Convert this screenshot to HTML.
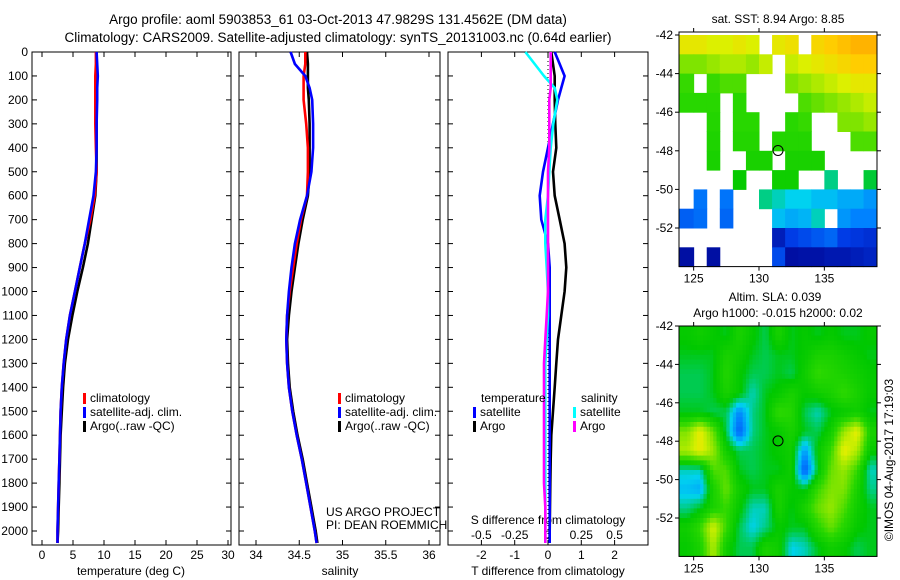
<!DOCTYPE html>
<html><head><meta charset="utf-8">
<style>
html,body{margin:0;padding:0;background:#fff;}
svg{display:block;font-family:"Liberation Sans",Arial,sans-serif;}
</style></head>
<body>
<svg id="fig" width="900" height="580" viewBox="0 0 900 580">
<text x="338" y="24" font-size="13.5" text-anchor="middle">Argo profile: aoml 5903853_61 03-Oct-2013 47.9829S 131.4562E (DM data)</text>
<text x="338" y="42" font-size="13.5" text-anchor="middle">Climatology: CARS2009. Satellite-adjusted climatology: synTS_20131003.nc (0.64d earlier)</text>
<text x="778" y="23" font-size="12" text-anchor="middle">sat. SST: 8.94 Argo: 8.85</text>
<text x="775" y="301" font-size="12" text-anchor="middle">Altim. SLA: 0.039</text>
<text x="778" y="317" font-size="12" text-anchor="middle">Argo h1000: -0.015 h2000: 0.02</text>
<text transform="translate(893,460) rotate(-90)" font-size="12" text-anchor="middle">©IMOS 04-Aug-2017 17:19:03</text>
<text x="326" y="516" font-size="12">US ARGO PROJECT</text>
<text x="326" y="529" font-size="12">PI: DEAN ROEMMICH</text>
<g id="g"></g>
</svg>
<script>
const depths=[0,50,100,150,200,300,400,500,600,700,800,900,1000,1100,1200,1300,1400,1500,1600,1700,1800,1900,2000,2050];
const tClim=[8.7,8.7,8.6,8.6,8.6,8.6,8.7,8.8,8.5,7.8,6.9,6.1,5.3,4.5,3.9,3.5,3.2,3.0,2.9,2.8,2.7,2.6,2.5,2.5];
const tSat=[8.8,8.9,9.0,8.9,8.9,8.8,8.8,8.7,8.3,7.6,6.9,6.1,5.3,4.5,3.9,3.5,3.2,3.0,2.9,2.8,2.7,2.6,2.5,2.5];
const tArgo=[8.8,8.8,8.8,8.8,8.8,8.8,8.8,8.8,8.6,8.0,7.4,6.6,5.7,4.9,4.2,3.7,3.4,3.2,3.0,2.9,2.8,2.7,2.6,2.5];
const sClim=[34.57,34.57,34.55,34.55,34.55,34.58,34.60,34.60,34.59,34.52,34.47,34.43,34.39,34.36,34.35,34.36,34.38,34.42,34.47,34.53,34.58,34.63,34.68,34.70];
const sSat=[34.40,34.45,34.57,34.62,34.65,34.66,34.66,34.64,34.59,34.51,34.45,34.41,34.38,34.36,34.35,34.36,34.38,34.42,34.47,34.53,34.58,34.63,34.68,34.70];
const sArgo=[34.59,34.60,34.60,34.60,34.61,34.62,34.62,34.62,34.60,34.54,34.49,34.45,34.41,34.38,34.36,34.37,34.39,34.43,34.48,34.54,34.59,34.64,34.69,34.71];
const dtSat=[0.2,0.35,0.5,0.4,0.3,0.15,0.0,-0.15,-0.25,-0.2,0.0,0.05,0.05,0.05,0.05,0.05,0.05,0.05,0.05,0.05,0.05,0.05,0.05,0.05];
const dtArgo=[0.1,0.15,0.2,0.2,0.2,0.22,0.25,0.15,0.2,0.35,0.5,0.55,0.5,0.4,0.3,0.25,0.2,0.15,0.1,0.08,0.07,0.06,0.05,0.05];
const dsSat=[-0.17,-0.1,-0.03,0.05,0.07,0.04,0.02,0.01,0.0,-0.02,-0.02,-0.01,0,0,-0.01,-0.02,-0.02,-0.02,-0.02,-0.02,-0.02,-0.02,-0.02,-0.02];
const dsArgo=[0.02,0.02,0.02,0.02,0.01,0.01,0.01,0.0,0.0,0.0,0.0,0.0,0.0,-0.01,-0.02,-0.03,-0.03,-0.03,-0.03,-0.03,-0.03,-0.02,-0.02,-0.02];
const depthTicks=[0,100,200,300,400,500,600,700,800,900,1000,1100,1200,1300,1400,1500,1600,1700,1800,1900,2000];
const tTicks=[0,5,10,15,20,25,30];
const sTicks=["34","34.5","35","35.5","36"];
const dtTicks=["-2","-1","0","1","2"];
const dsTicks=["-0.5","-0.25","0","0.25","0.5"];
const latTicks=[-42,-44,-46,-48,-50,-52];
const lonTicks=[125,130,135];
const sstGrid=[
[.72,.72,.70,.70,.72,.70,-1,.72,.74,-1,.76,.78,.80,.82,.82],
[.62,.62,.64,.66,.66,.64,.68,-1,.68,.70,.72,.74,.76,.78,.78],
[.56,-1,.56,.58,.58,-1,-1,-1,.62,.64,.66,.68,.70,.72,.72],
[.55,.55,.55,-1,.55,-1,-1,-1,-1,.58,.60,.62,.64,.66,.68],
[-1,-1,.54,-1,.55,.55,-1,-1,.55,.56,-1,-1,.62,.62,.64],
[-1,-1,.53,-1,.54,.54,-1,.54,.54,.54,-1,-1,-1,.58,.58],
[-1,-1,.52,-1,-1,.52,.52,-1,.52,.52,.52,-1,-1,-1,-1],
[-1,-1,-1,-1,.48,-1,-1,.50,.50,-1,-1,.42,-1,-1,.45],
[-1,.28,-1,.28,-1,-1,.42,.40,.38,.38,.36,.36,.34,.34,.32],
[.25,.27,-1,.26,-1,-1,-1,.36,.34,.35,.40,-1,.32,.30,.30],
[-1,-1,-1,-1,-1,-1,-1,.10,.20,.22,.24,.26,.20,.18,.16],
[.05,-1,.05,-1,-1,-1,-1,.22,.05,.06,.06,.08,.08,.10,.12]];
const slaGrid=[
[.48,.50,.48,.46,.52,.48,.44,.52,.46,.48,.46,.48,.46,.46,.48],
[.46,.46,.46,.52,.50,.46,.44,.46,.46,.48,.52,.52,.50,.48,.46],
[.44,.44,.46,.54,.48,.44,.44,.46,.44,.50,.56,.54,.52,.50,.48],
[.44,.44,.46,.52,.48,.40,.46,.48,.52,.48,.50,.52,.56,.52,.48],
[.46,.46,.44,.44,.30,.42,.46,.56,.54,.44,.40,.46,.48,.50,.46],
[.62,.72,.60,.44,.25,.42,.46,.48,.52,.46,.44,.50,.64,.72,.52],
[.66,.72,.64,.50,.44,.44,.46,.48,.50,.32,.48,.56,.72,.66,.48],
[.40,.40,.58,.58,.46,.44,.46,.46,.50,.24,.46,.60,.64,.56,.40],
[.36,.34,.52,.60,.50,.46,.46,.52,.48,.46,.56,.62,.62,.52,.42],
[.42,.46,.52,.56,.48,.40,.40,.52,.46,.52,.60,.64,.58,.50,.46],
[.50,.56,.70,.56,.44,.38,.42,.48,.46,.46,.54,.60,.54,.48,.46],
[.48,.52,.66,.50,.44,.44,.52,.50,.38,.40,.46,.50,.48,.44,.46]];
const argoLon=131.456, argoLat=-47.983;

const NS="http://www.w3.org/2000/svg";
const G=document.getElementById('g');
function mk(tag,attrs,parent){const e=document.createElementNS(NS,tag);for(const k in attrs)e.setAttribute(k,attrs[k]);(parent||G).appendChild(e);return e;}
function txt(x,y,s,anchor,size){const t=mk('text',{x:x,y:y,'font-size':size||12,'text-anchor':anchor||'middle'});t.textContent=s;return t;}
const yD=d=>52+d*0.2395;
const PT=53,PB=545;
const xT=v=>42+v*6.2;
const xS=v=>256+(v-34)*86.5;
const xDT=v=>548+v*33.3;
const xDS=v=>548+v*133.2;

const panels=[[32,231,'temperature-panel'],[239,440,'salinity-panel'],[448,648,'difference-panel']];
panels.forEach(p=>{const r=mk('rect',{x:p[0],y:PT-1,width:p[1]-p[0],height:PB-PT+1,fill:'none',stroke:'#000','stroke-width':1});


depthTicks.forEach(d=>{mk('line',{x1:p[0],x2:p[0]+5,y1:yD(d),y2:yD(d),stroke:'#000'});mk('line',{x1:p[1]-5,x2:p[1],y1:yD(d),y2:yD(d),stroke:'#000'});});});
depthTicks.forEach(d=>{const t=txt(28,yD(d)+4,String(d),'end',12);

});
function xticks(vals,fx,labY,lab){vals.forEach(v=>{const x=fx(parseFloat(v));mk('line',{x1:x,x2:x,y1:PT-1,y2:PT+4,stroke:'#000'});mk('line',{x1:x,x2:x,y1:PB-5,y2:PB,stroke:'#000'});
const t=txt(x,labY,String(v),'middle',12);

});}
xticks(tTicks,xT,559,'temperature-tick-label');
xticks(sTicks,xS,559,'salinity-tick-label');
xticks(dtTicks,xDT,559,'t-diff-tick-label');
dsTicks.forEach(v=>{const t=txt(xDS(parseFloat(v)),539,v,'middle',12);

});
[[131,'temperature (deg C)','temperature-axis-title'],[340,'salinity','salinity-axis-title'],[548,'T difference from climatology','t-diff-axis-title']].forEach(a=>{const t=txt(a[0],575,a[1],'middle',12);

});
{const t=txt(548,524,'S difference from climatology','middle',12);

}
mk('line',{x1:548,x2:548,y1:PT,y2:PB,stroke:'#000','stroke-dasharray':'1,3'});

function series(vals,fx,color,name){const pts=vals.map((v,i)=>fx(v).toFixed(1)+','+yD(depths[i]).toFixed(1)).join(' ');
const pl=mk('polyline',{points:pts,fill:'none',stroke:color,'stroke-width':2.6,'stroke-linejoin':'round'});

}
series(tArgo,xT,'#000','temp-argo-line');series(tClim,xT,'#f00','temp-climatology-line');series(tSat,xT,'#00f','temp-satellite-line');
series(sArgo,xS,'#000','sal-argo-line');series(sClim,xS,'#f00','sal-climatology-line');series(sSat,xS,'#00f','sal-satellite-line');
series(dtArgo,xDT,'#000','tdiff-argo-line');series(dtSat,xDT,'#00f','tdiff-satellite-line');
series(dsSat,xDS,'#0ff','sdiff-satellite-line');series(dsArgo,xDS,'#f0f','sdiff-argo-line');

function legend(x,y,label,color,name){mk('rect',{x:x,y:y-9,width:3,height:11,fill:color});const t=txt(x+7,y,label,'start',12);

}
[['#f00','climatology'],['#00f','satellite-adj. clim.'],['#000','Argo(..raw -QC)']].forEach((l,i)=>{legend(83,402+i*14,l[1],l[0],'legend-entry');legend(338,402+i*14,l[1],l[0],'legend-entry');});
{const t=txt(481,402,'temperature','start',12);}
{const t=txt(581,402,'salinity','start',12);}
legend(473,416,'satellite','#00f','legend-entry');legend(473,430,'Argo','#000','legend-entry');
legend(573,416,'satellite','#0ff','legend-entry');legend(573,430,'Argo','#f0f','legend-entry');

function jet(v){const stops=[[0,[0,0,140]],[0.2,[0,60,230]],[0.3,[0,130,255]],[0.38,[0,210,240]],[0.47,[0,200,0]],[0.55,[40,215,0]],[0.63,[140,230,0]],[0.7,[220,240,0]],[0.78,[255,205,0]],[0.88,[255,140,0]],[1,[220,40,0]]];
if(v<=0)return 'rgb(0,0,140)';
for(let i=1;i<stops.length;i++){if(v<=stops[i][0]){const a=stops[i-1],b=stops[i],f=(v-a[0])/(b[0]-a[0]);return 'rgb('+a[1].map((c,k)=>Math.round(c+(b[1][k]-c)*f)).join(',')+')';}}return 'rgb(220,40,0)';}
const lonX=l=>759+(l-130)*13.07;
const L=679,R=877;
function frame(top,latY){const Bt=latY(-54);
mk('rect',{x:L,y:top,width:R-L,height:Bt-top,fill:'none',stroke:'#000'});
latTicks.forEach(l=>{const y=latY(l);mk('line',{x1:L-4,x2:L,y1:y,y2:y,stroke:'#000'});mk('line',{x1:R,x2:R+4,y1:y,y2:y,stroke:'#000'});
const t=txt(L-6,y+4,String(l),'end',12);});
lonTicks.forEach(l=>{const x=lonX(l);mk('line',{x1:x,x2:x,y1:top-4,y2:top,stroke:'#000'});mk('line',{x1:x,x2:x,y1:Bt,y2:Bt+4,stroke:'#000'});
const t=txt(x,Bt+16,String(l),'middle',12);});
const c=mk('circle',{cx:lonX(argoLon),cy:latY(argoLat),r:5,fill:'none',stroke:'#000','stroke-width':1});
}
// SST map: blocky cells
(function(){const latY=l=>35+(-42-l)*19.3;const g=mk('g',{});
sstGrid.forEach((row,r)=>row.forEach((v,c)=>{if(v<0)return;const x0=c===0?L:lonX(124+c),x1=c===14?R:lonX(125+c);const y0=latY(-42-r),y1=latY(-43-r);
mk('rect',{x:x0,y:y0,width:x1-x0+0.5,height:y1-y0+0.5,fill:jet(v)},g);}));
frame(32,latY);})();
// SLA map: smooth (bilinear between cell centres)
(function(){const latY=l=>326+(-42-l)*19.2;const g=mk('g',{});
const nr=slaGrid.length,nc=slaGrid[0].length,sub=4;
const at=(r,c)=>slaGrid[Math.max(0,Math.min(nr-1,r))][Math.max(0,Math.min(nc-1,c))];
for(let r=0;r<nr*sub;r++)for(let c=0;c<nc*sub;c++){const fr=(r+0.5)/sub-0.5,fc=(c+0.5)/sub-0.5;const r0=Math.floor(fr),c0=Math.floor(fc),dr=fr-r0,dc=fc-c0;
const v=at(r0,c0)*(1-dr)*(1-dc)+at(r0,c0+1)*(1-dr)*dc+at(r0+1,c0)*dr*(1-dc)+at(r0+1,c0+1)*dr*dc;
const x0=c===0?L:lonX(124+c/sub),x1=c===nc*sub-1?R:lonX(124+(c+1)/sub);const y0=latY(-42-r/sub),y1=latY(-42-(r+1)/sub);
mk('rect',{x:x0,y:y0,width:x1-x0+0.5,height:y1-y0+0.5,fill:jet(v)},g);}
frame(326,latY);})();
</script>
</body></html>
